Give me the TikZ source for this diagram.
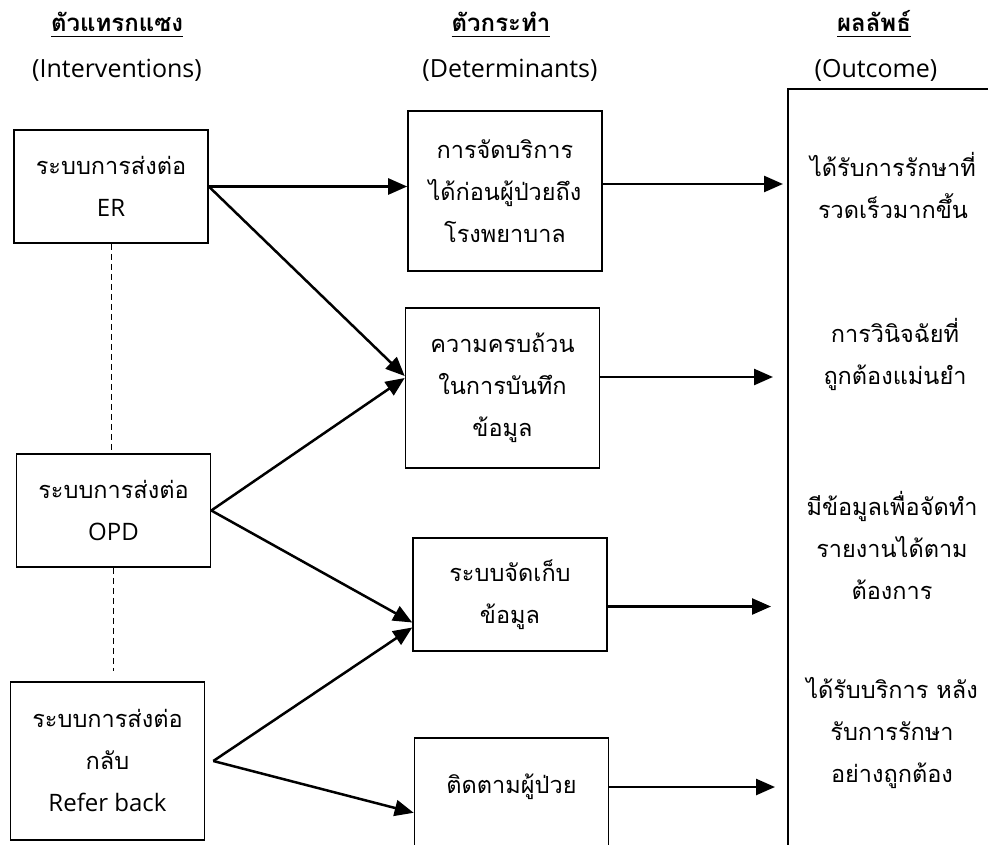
\documentclass[tikz,border=0pt]{standalone}
\usepackage{fontspec}
\usetikzlibrary{arrows.meta,calc}
\setmainfont{Open Sans}
\newfontfamily\thaifont[Script=Thai]{Loma}
\newfontfamily\latinfont{Open Sans}

\tikzset{
  box/.style={draw, line width=1.6pt, rectangle, minimum width=194pt, inner sep=0pt},
  txt/.style={align=center, inner sep=0pt, font=\thaifont\fontsize{23.5}{42}\selectfont},
  head/.style={align=center, inner sep=0pt, font=\fontsize{25}{42}\selectfont},
  thaihead/.style={inner sep=0pt, anchor=base, font=\thaifont\bfseries\fontsize{24}{42}\selectfont},
  arr/.style={line width=2.5pt, -{Triangle[length=19pt,width=16pt]}},
  guide/.style={line width=1pt, dash pattern=on 6pt off 4pt},
}
\newcommand{\lat}[1]{{\latinfont\fontsize{24}{42}\selectfont #1}}
\newcommand{\headline}[1]{\underline{\raisebox{0pt}[\height][3pt]{#1}}}

\begin{document}
\begin{tikzpicture}[x=1pt,y=-1pt]
\useasboundingbox (0,0) rectangle (988,845);
\clip (0,0) rectangle (988,845);

% column headings
\node[thaihead] (h1t) at (117,32) {\headline{ตัวแทรกแซง}};
\node[head] (h1e) at (117,70) {(Interventions)};
\node[thaihead] (h2t) at (501,32) {\headline{ตัวกระทำ}};
\node[head] (h2e) at (510,70) {(Determinants)};
\node[thaihead] (h3t) at (874,32) {\headline{ผลลัพธ์}};
\node[head] (h3e) at (876,70) {(Outcome)};

% interventions
\node[box, minimum height=113pt] (er) at (111,186.5) {};
\node[txt] (ert) at (er) {ระบบการส่งต่อ\\\lat{ER}};
\node[box, minimum height=113pt] (opd) at (113.5,510.5) {};
\node[txt] (opdt) at (opd) {ระบบการส่งต่อ\\\lat{OPD}};
\node[box, minimum height=158pt] (refer) at (107.5,761) {};
\node[txt] (refert) at (refer) {ระบบการส่งต่อ\\กลับ\\\lat{Refer back}};
\coordinate (rb) at ([xshift=8pt]refer.east);
\coordinate (dashend) at (113.5,671);

% determinants
\node[box, minimum height=160pt] (box1) at (505,191) {};
\node[txt] (box1t) at (box1) {การจัดบริการ\\ได้ก่อนผู้ป่วยถึง\\โรงพยาบาล};
\node[box, minimum height=160pt] (box2) at (502.5,388) {};
\node[txt] (box2t) at (box2) {ความครบถ้วน\\ในการบันทึก\\ข้อมูล};
\node[box, minimum height=113pt] (box3) at (510,594.5) {};
\node[txt] (box3t) at (box3) {ระบบจัดเก็บ\\ข้อมูล};
\node[box, minimum height=140pt, anchor=north] (box4) at (511.5,737) {};
\node[txt] (box4t) at (511.5,787) {ติดตามผู้ป่วย};

% outcomes
\node[draw, line width=1.6pt, rectangle, anchor=north west, minimum width=260pt, minimum height=800pt, inner sep=0pt] (outbox) at (787,88) {};
\node[txt] (o1) at (893,185) {ได้รับการรักษาที่\\รวดเร็วมากขึ้น};
\node[txt] (o2) at (895,354) {การวินิจฉัยที่\\ถูกต้องแม่นยำ};
\node[txt] (o3) at (892,545) {มีข้อมูลเพื่อจัดทำ\\รายงานได้ตาม\\ต้องการ};
\node[txt] (o4) at (892,733) {ได้รับบริการ หลัง\\รับการรักษา\\อย่างถูกต้อง};

% links between interventions
\draw[guide] (er.south) -- (er.south |- opd.north);
\draw[guide] (opd.south) -- (dashend);

% interventions to determinants
\draw[arr] (er.east) -- (er.east -| box1.west);
\draw[arr] (er.east) -- ([yshift=12pt]box2.west);
\draw[arr] (opd.east) -- ([yshift=10pt]box2.west);
\draw[arr] (opd.east) -- ([yshift=-28pt]box3.west);
\draw[arr] (rb) -- ([yshift=-33pt]box3.west);
\draw[arr] (rb) -- ([yshift=-5pt]box4.west);

% determinants to outcomes
\draw[arr, shorten >=4pt] ([yshift=7pt]box1.east) -- ([yshift=7pt]box1.east -| outbox.west);
\draw[arr, shorten >=14pt] ([yshift=11pt]box2.east) -- ([yshift=11pt]box2.east -| outbox.west);
\draw[arr, shorten >=16pt] ([yshift=-12pt]box3.east) -- ([yshift=-12pt]box3.east -| outbox.west);
\draw[arr, shorten >=12pt] (box4t -| box4.east) -- (box4t -| outbox.west);
\end{tikzpicture}
\end{document}
